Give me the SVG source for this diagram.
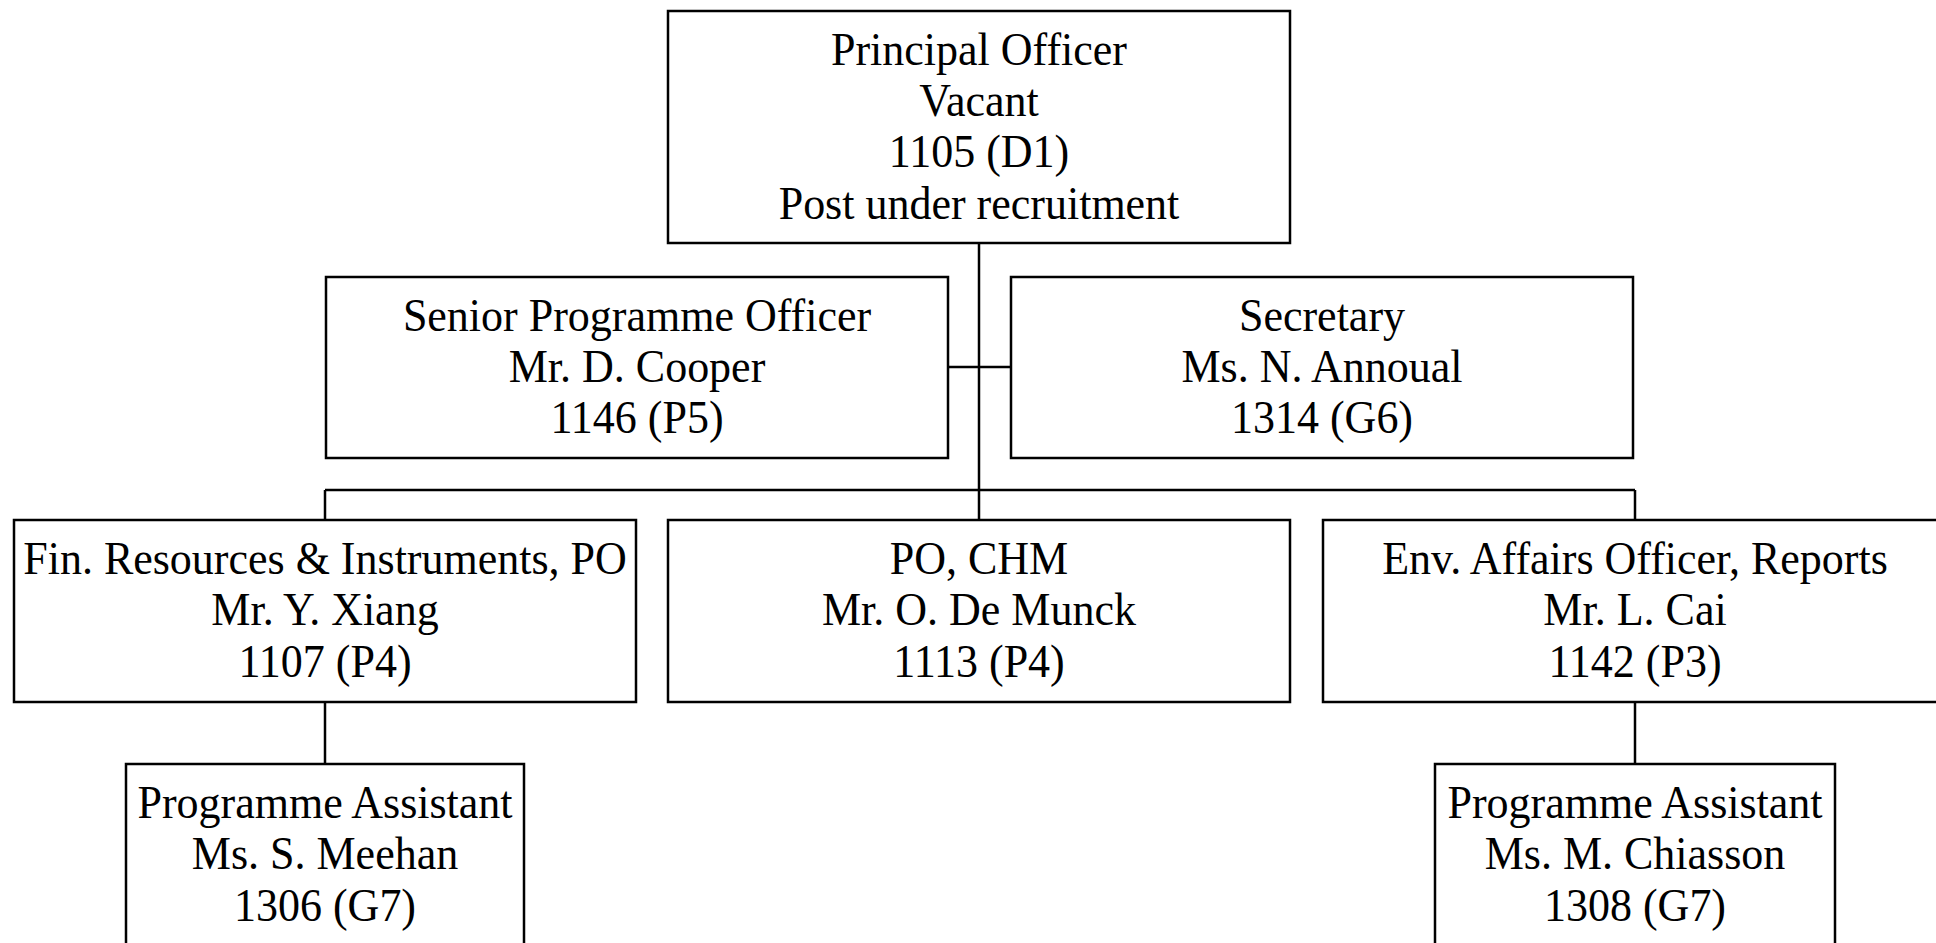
<svg xmlns="http://www.w3.org/2000/svg" width="1936" height="943" viewBox="0 0 1936 943">
<style>
.box{fill:#fff;stroke:#000;stroke-width:2.5}
.ln{stroke:#000;stroke-width:2.5;fill:none}
text{font-family:"Liberation Serif","Times New Roman",serif;font-size:47px;fill:#000;text-anchor:middle}
</style>
<rect width="1936" height="943" fill="#fff"/>
<g id="connectors">
<line class="ln" x1="979" y1="243" x2="979" y2="490"/>
<line class="ln" x1="948" y1="367" x2="1011" y2="367"/>
<line class="ln" x1="325" y1="490" x2="1635" y2="490"/>
<line class="ln" x1="325" y1="490" x2="325" y2="520"/>
<line class="ln" x1="979" y1="490" x2="979" y2="520"/>
<line class="ln" x1="1635" y1="490" x2="1635" y2="520"/>
<line class="ln" x1="325" y1="702" x2="325" y2="764"/>
<line class="ln" x1="1635" y1="702" x2="1635" y2="764"/>
</g>
<g id="principal">
<rect class="box" x="668" y="11" width="622" height="232"/>
<g transform="translate(979 0) scale(0.936 1)">
<text x="0" y="65">Principal Officer</text>
<text x="0" y="116">Vacant</text>
<text x="0" y="167">1105 (D1)</text>
<text x="0" y="219">Post under recruitment</text>
</g>
</g>
<g id="senior">
<rect class="box" x="326" y="277" width="622" height="181"/>
<g transform="translate(637 0) scale(0.936 1)">
<text x="0" y="331">Senior Programme Officer</text>
<text x="0" y="382">Mr. D. Cooper</text>
<text x="0" y="433">1146 (P5)</text>
</g>
</g>
<g id="secretary">
<rect class="box" x="1011" y="277" width="622" height="181"/>
<g transform="translate(1322 0) scale(0.936 1)">
<text x="0" y="331">Secretary</text>
<text x="0" y="382">Ms. N. Annoual</text>
<text x="0" y="433">1314 (G6)</text>
</g>
</g>
<g id="fin">
<rect class="box" x="14" y="520" width="622" height="182"/>
<g transform="translate(325 0) scale(0.936 1)">
<text x="0" y="574">Fin. Resources &amp; Instruments, PO</text>
<text x="0" y="625">Mr. Y. Xiang</text>
<text x="0" y="677">1107 (P4)</text>
</g>
</g>
<g id="chm">
<rect class="box" x="668" y="520" width="622" height="182"/>
<g transform="translate(979 0) scale(0.936 1)">
<text x="0" y="574">PO, CHM</text>
<text x="0" y="625">Mr. O. De Munck</text>
<text x="0" y="677">1113 (P4)</text>
</g>
</g>
<g id="env">
<rect class="box" x="1323" y="520" width="622" height="182"/>
<g transform="translate(1635 0) scale(0.936 1)">
<text x="0" y="574">Env. Affairs Officer, Reports</text>
<text x="0" y="625">Mr. L. Cai</text>
<text x="0" y="677">1142 (P3)</text>
</g>
</g>
<g id="meehan">
<rect class="box" x="126" y="764" width="398" height="200"/>
<g transform="translate(325 0) scale(0.936 1)">
<text x="0" y="818">Programme Assistant</text>
<text x="0" y="869">Ms. S. Meehan</text>
<text x="0" y="921">1306 (G7)</text>
</g>
</g>
<g id="chiasson">
<rect class="box" x="1435" y="764" width="400" height="200"/>
<g transform="translate(1635 0) scale(0.936 1)">
<text x="0" y="818">Programme Assistant</text>
<text x="0" y="869">Ms. M. Chiasson</text>
<text x="0" y="921">1308 (G7)</text>
</g>
</g>
</svg>
